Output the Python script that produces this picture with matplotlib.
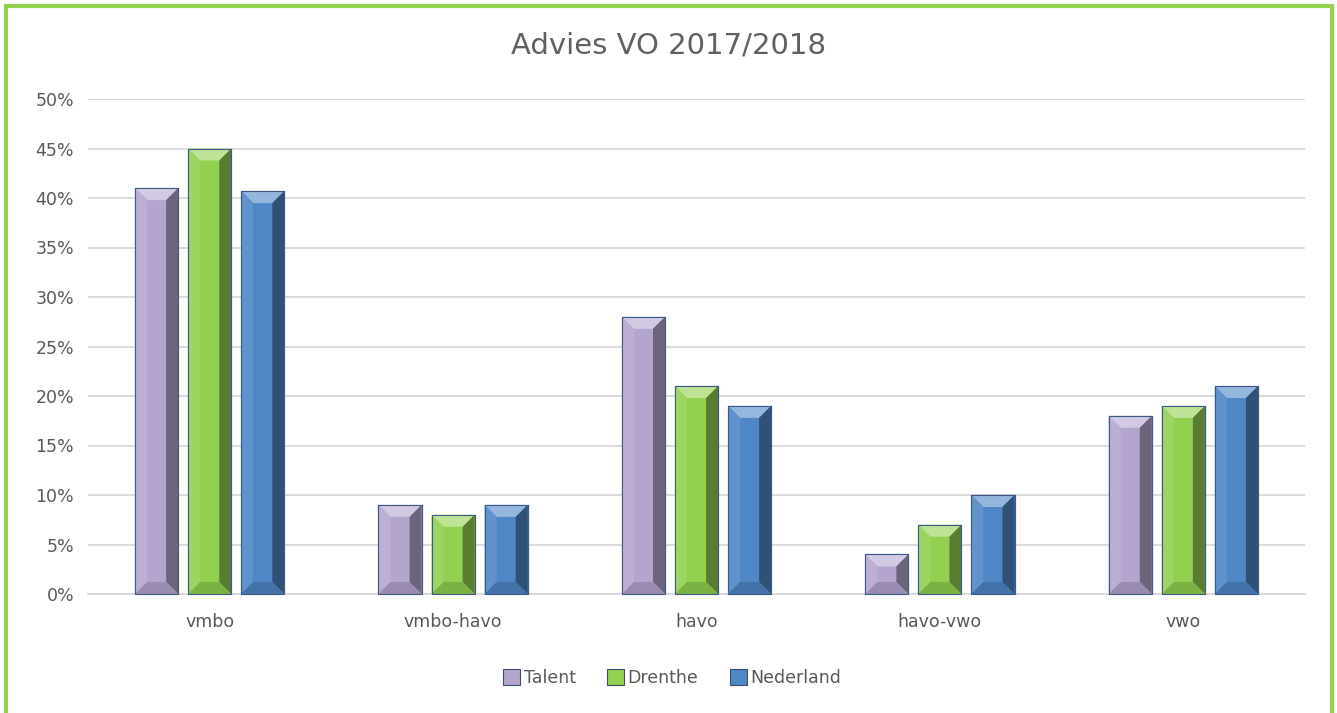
import matplotlib
matplotlib.use("Agg")
import matplotlib.pyplot as plt
import numpy as np
from matplotlib.patches import Polygon, Rectangle
from matplotlib.transforms import IdentityTransform
import matplotlib.colors as mcolors

categories = ["vmbo", "vmbo-havo", "havo", "havo-vwo", "vwo"]
series_names = ["Talent", "Drenthe", "Nederland"]
talent = [0.41, 0.09, 0.28, 0.04, 0.18]
drenthe = [0.45, 0.08, 0.21, 0.07, 0.19]
nederland = [0.407, 0.09, 0.19, 0.10, 0.21]
yticks = [0, 0.05, 0.10, 0.15, 0.20, 0.25, 0.30, 0.35, 0.40, 0.45, 0.50]
ytick_labels = ["0%", "5%", "10%", "15%", "20%", "25%", "30%", "35%", "40%", "45%", "50%"]
title = "Advies VO 2017/2018"

colors = ["#B4A5CF", "#92D050", "#4F86C6"]
text_color = "#595959"

plt.rcParams['font.family'] = ['DejaVu Sans']

fig = plt.figure(figsize=(13.37, 7.13), dpi=100)
ax = fig.add_axes([88/1337, 1-594/713, (1305-88)/1337, (594-99)/713])

x = np.arange(len(categories))
width = 0.177
offset = 0.218
all_series = [talent, drenthe, nederland]
containers = []
for i, (vals, col) in enumerate(zip(all_series, colors)):
    c = ax.bar(x + (i-1)*offset, vals, width, color=col, edgecolor="#3A4E6E",
               linewidth=0.8, label=series_names[i], zorder=3)
    containers.append(c)

ax.set_ylim(0, 0.5)
ax.set_xlim(-0.5, len(categories)-0.5)
ax.set_yticks(yticks)
ax.set_yticklabels(ytick_labels)
ax.set_xticks(x)
ax.set_xticklabels(categories)
ax.tick_params(axis='both', length=0, labelsize=12.5, colors=text_color, pad=10)
ax.tick_params(axis='x', pad=14)
ax.yaxis.grid(True, color="#D9D9D9", linewidth=1.3, zorder=0)
ax.set_axisbelow(True)
for s in ["top", "right", "left"]:
    ax.spines[s].set_visible(False)
ax.spines["bottom"].set_color("#D9D9D9")
ax.spines["bottom"].set_linewidth(1.3)

fig.text(669/1337, 1-45/713, title, ha="center", va="center", fontsize=21, color="#606060")

# bevel effect
fig.canvas.draw()
def mix(c, t, f):
    a = np.array(mcolors.to_rgb(c)); b = np.array(mcolors.to_rgb(t))
    return tuple(a*(1-f) + b*f)
d = 12
for cont, col in zip(containers, colors):
    for r in cont:
        (x0, y0), (x1, y1) = ax.transData.transform([(r.get_x(), 0), (r.get_x()+r.get_width(), r.get_height())])
        dd = min(d, (y1-y0)/2, (x1-x0)/2)
        top = [(x0, y1), (x1, y1), (x1-dd, y1-dd), (x0+dd, y1-dd)]
        bot = [(x0, y0), (x1, y0), (x1-dd, y0+dd), (x0+dd, y0+dd)]
        left = [(x0, y0), (x0, y1), (x0+dd, y1-dd), (x0+dd, y0+dd)]
        right = [(x1, y0), (x1, y1), (x1-dd, y1-dd), (x1-dd, y0+dd)]
        for pts, cc in [(top, mix(col, "white", 0.4)), (left, mix(col, "white", 0.1)),
                        (right, mix(col, "black", 0.4)), (bot, mix(col, "black", 0.15))]:
            p = Polygon(pts, closed=True, transform=IdentityTransform(), facecolor=cc,
                        edgecolor="none", zorder=4)
            fig.add_artist(p)
        edge = Rectangle((x0, y0), x1-x0, y1-y0, transform=IdentityTransform(), fill=False,
                         edgecolor="#3B5A85", linewidth=0.8, zorder=5)
        fig.add_artist(edge)

leg = ax.legend(loc="center", bbox_to_anchor=(672/1337, 1-678/713), bbox_transform=fig.transFigure,
                ncol=3, frameon=False, fontsize=12.5, handlelength=1.0, handleheight=1.0,
                handletextpad=0.2, columnspacing=1.8, labelcolor=text_color)

border = Rectangle((6/1337, -0.05), 1326/1337, 1.05-6/713, transform=fig.transFigure, fill=False,
                   edgecolor="#92D050", linewidth=3)
fig.add_artist(border)

fig.savefig("out.png", dpi=100)
